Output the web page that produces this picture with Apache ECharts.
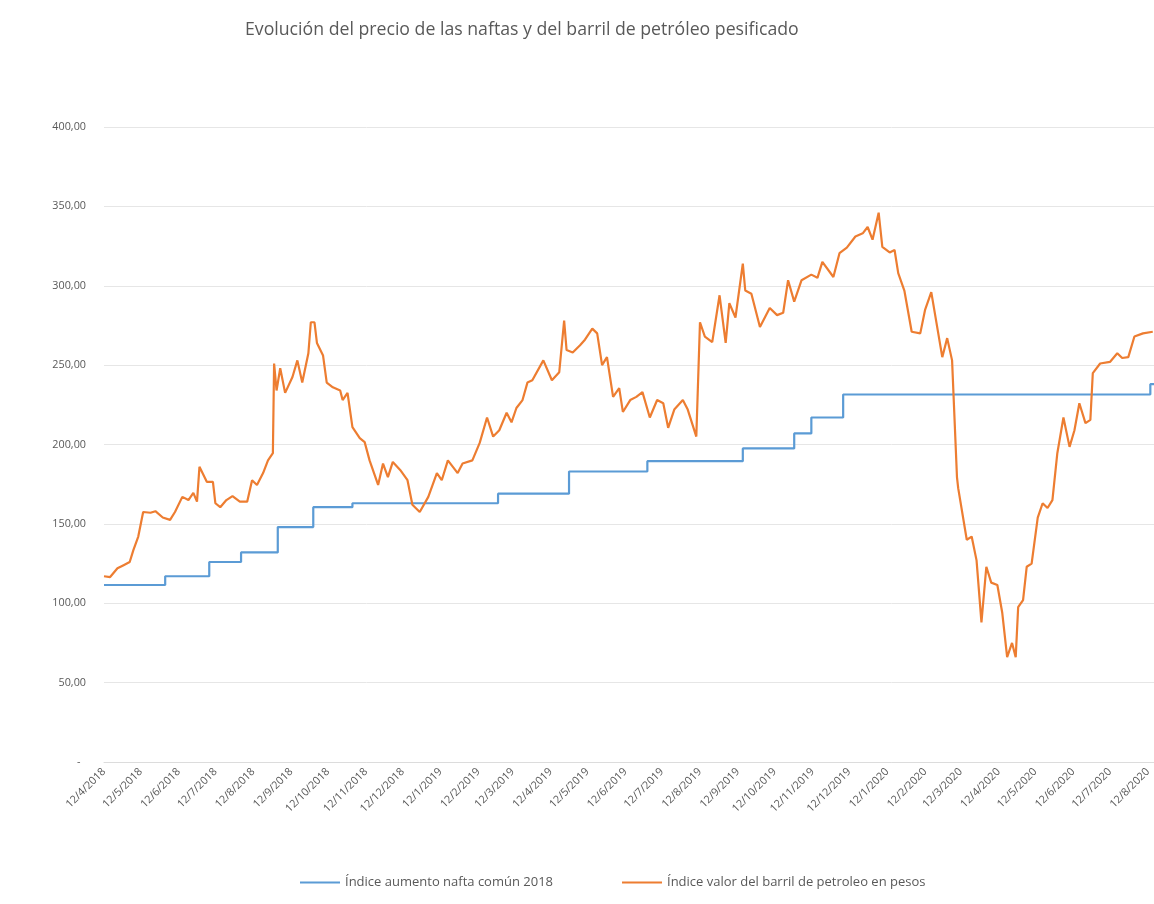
<!DOCTYPE html>
<html>
<head>
<meta charset="utf-8">
<script src="https://cdn.jsdelivr.net/npm/echarts@6/dist/echarts.min.js"></script>
<style>
html,body{margin:0;padding:0;background:#fff;}
#chart{width:1154px;height:904px;}
</style>
</head>
<body>
<div id="chart"></div>
<script>
// ---- Data ----
const titleText = 'Evolución del precio de las naftas y del barril de petróleo pesificado';
const seriesNames = ['Índice aumento nafta común 2018', 'Índice valor del barril de petroleo en pesos'];

// Blue: fuel price index (step series, value valid from each date)
const fuelDates = ['2018-04-12','2018-06-01','2018-07-07','2018-08-02','2018-09-01','2018-09-30','2018-11-01',
  '2019-02-28','2019-04-27','2019-06-30','2019-09-16','2019-10-28','2019-11-11','2019-12-07','2020-08-14','2020-08-17'];
const fuelValues = [111.5,117,126,132,148,160.5,163,169,183,189.5,197.5,207,217,231.5,238,238];

// Orange: oil barrel in pesos index
const oilDates = [
  '2018-04-12','2018-04-17','2018-04-23','2018-04-28','2018-05-03','2018-05-06','2018-05-10','2018-05-14','2018-05-20','2018-05-24','2018-05-30','2018-06-05','2018-06-09','2018-06-15','2018-06-20','2018-06-24','2018-06-27','2018-06-29',
  '2018-07-05','2018-07-10','2018-07-12','2018-07-16','2018-07-21','2018-07-26','2018-08-01','2018-08-07','2018-08-11','2018-08-15','2018-08-20','2018-08-24','2018-08-28','2018-08-29','2018-08-31','2018-09-03','2018-09-07','2018-09-13','2018-09-17','2018-09-21','2018-09-26','2018-09-28',
  '2018-10-01','2018-10-03','2018-10-08','2018-10-11','2018-10-16','2018-10-22','2018-10-24','2018-10-28','2018-11-01','2018-11-07','2018-11-11','2018-11-15','2018-11-22','2018-11-26','2018-11-30','2018-12-04','2018-12-10','2018-12-16','2018-12-20','2018-12-26',
  '2019-01-02','2019-01-09','2019-01-13','2019-01-18','2019-01-26','2019-01-30','2019-02-07','2019-02-13','2019-02-19','2019-02-24','2019-03-01','2019-03-07','2019-03-11','2019-03-15','2019-03-20','2019-03-24','2019-03-28',
  '2019-04-06','2019-04-13','2019-04-19','2019-04-23','2019-04-25','2019-04-30','2019-05-06','2019-05-10','2019-05-16','2019-05-20','2019-05-24','2019-05-28','2019-06-02','2019-06-07','2019-06-10','2019-06-16','2019-06-21','2019-06-26',
  '2019-07-02','2019-07-08','2019-07-13','2019-07-17','2019-07-22','2019-07-29','2019-08-02','2019-08-09','2019-08-12','2019-08-16','2019-08-22','2019-08-28','2019-09-02','2019-09-05','2019-09-10','2019-09-16','2019-09-18','2019-09-23','2019-09-30',
  '2019-10-08','2019-10-14','2019-10-19','2019-10-23','2019-10-28','2019-11-03','2019-11-11','2019-11-16','2019-11-20','2019-11-29','2019-12-04','2019-12-10','2019-12-17','2019-12-23','2019-12-27','2019-12-31',
  '2020-01-05','2020-01-08','2020-01-14','2020-01-18','2020-01-21','2020-01-26','2020-02-01','2020-02-08','2020-02-12','2020-02-17','2020-02-26','2020-03-01','2020-03-05','2020-03-09','2020-03-10','2020-03-17','2020-03-21','2020-03-25','2020-03-29',
  '2020-04-02','2020-04-06','2020-04-11','2020-04-15','2020-04-19','2020-04-23','2020-04-26','2020-04-28','2020-05-02','2020-05-05','2020-05-09','2020-05-14','2020-05-18','2020-05-22','2020-05-26','2020-05-30',
  '2020-06-04','2020-06-09','2020-06-13','2020-06-17','2020-06-22','2020-06-26','2020-06-28','2020-07-04','2020-07-12','2020-07-18','2020-07-22','2020-07-27','2020-08-01','2020-08-08','2020-08-16'
];
const oilValues = [
  117,116.5,122,124,126,133.5,142,157.5,157,158,154,152.5,157.5,167,165,169.5,164,186,
  176.5,176.5,163,160.5,165,167.5,164,164,177.5,174.5,182,190,194.5,251,234,248,232.5,242.5,253,239,257.5,277,
  277,264,256,239,236,234,228,232.5,211,204,201.5,190,174.5,188,179.5,189,184,177.5,162,157.5,
  167,182,177.5,190,182,188,190,201,217,205,209,220,214,223,228,239,240.5,
  253,240.5,245.5,278,259.5,258,262.5,266,273,270,250,255,230,235.5,220.5,228,230,233,
  217,228,226,210.5,222,228,222,205,277,268,264.5,294,264,289,280,314,297,295,274,
  286,281.5,283,303.5,290,303.5,307,305,315,305.5,320.5,324,331,333,337,329,
  346,324.5,321,322.5,308,297,271,270,285,296,255,267,253,179.5,172.5,140,142,127,88,
  123,113,111.5,94,66,75,66,97.5,102,123,125,154,163,160,165,194.5,
  217,198.5,209,226,213.5,215.5,245,251,252,257.5,254.5,255,268,270,271
];

// X tick labels: the 12th of every month
const tickDates = ['2018-04-12','2018-05-12','2018-06-12','2018-07-12','2018-08-12','2018-09-12','2018-10-12','2018-11-12','2018-12-12',
  '2019-01-12','2019-02-12','2019-03-12','2019-04-12','2019-05-12','2019-06-12','2019-07-12','2019-08-12','2019-09-12','2019-10-12','2019-11-12','2019-12-12',
  '2020-01-12','2020-02-12','2020-03-12','2020-04-12','2020-05-12','2020-06-12','2020-07-12','2020-08-12'];
const axisStart = '2018-04-12';
const axisEnd = '2020-08-17';

// ---- Build chart ----
function toTs(s){ const p = s.split('-').map(Number); return new Date(p[0], p[1]-1, p[2]).getTime(); }
const fuelData = fuelDates.map((d,i)=>[toTs(d), fuelValues[i]]);
const oilData = oilDates.map((d,i)=>[toTs(d), oilValues[i]]);
const tickTs = tickDates.map(toTs);

const FONT = '"Open Sans", Lato, sans-serif';
const TXT = '#595959';

const chart = echarts.init(document.getElementById('chart'), null, {renderer:'canvas'});
chart.setOption({
  backgroundColor: '#ffffff',
  animation: false,
  title: {
    text: titleText,
    left: 245, top: 21, padding: 0,
    textStyle: {fontFamily: FONT, fontSize: 17.7, fontWeight: 'normal', color: TXT}
  },
  legend: {
    left: 300, top: 876, padding: 0,
    icon: 'rect', itemWidth: 40, itemHeight: 2, itemGap: 69,
    textStyle: {fontFamily: FONT, fontSize: 13, color: TXT},
    data: seriesNames
  },
  grid: {left: 104, right: 0, top: 127, bottom: 142},
  xAxis: {
    type: 'value',
    min: toTs(axisStart), max: toTs(axisEnd),
    axisLine: {show: true, lineStyle: {color: '#dcdcdc', width: 1}},
    axisTick: {show: false},
    splitLine: {show: false},
    axisLabel: {
      customValues: tickTs,
      rotate: 45, margin: 8,
      fontFamily: FONT, fontSize: 10.8, color: TXT,
      formatter: function(v){ const d = new Date(v); return d.getDate() + '/' + (d.getMonth()+1) + '/' + d.getFullYear(); }
    }
  },
  yAxis: {
    type: 'value', min: 0, max: 400, interval: 50,
    axisLine: {show: false}, axisTick: {show: false},
    splitLine: {lineStyle: {color: '#e6e6e6', width: 1}},
    axisLabel: {
      margin: 18, fontFamily: FONT, fontSize: 10.8, color: TXT,
      formatter: function(v){ return v === 0 ? '-  ' : v.toFixed(2).replace('.', ','); }
    }
  },
  series: [
    {name: seriesNames[0], type: 'line', step: 'end', data: fuelData, symbol: 'none',
     lineStyle: {color: '#5B9BD5', width: 2.2}, itemStyle: {color: '#5B9BD5'}},
    {name: seriesNames[1], type: 'line', data: oilData, symbol: 'none',
     lineStyle: {color: '#ED7D31', width: 2.2}, itemStyle: {color: '#ED7D31'}}
  ]
});
</script>
</body>
</html>
